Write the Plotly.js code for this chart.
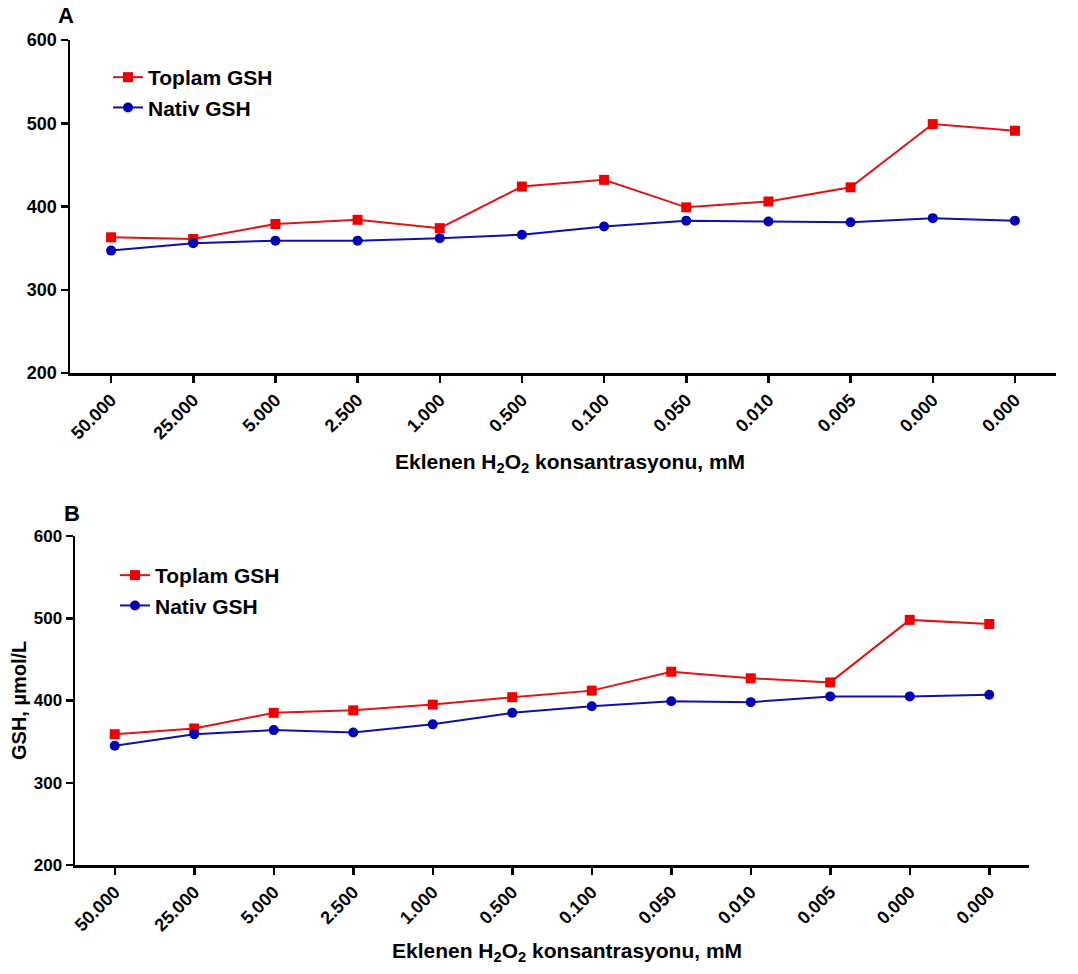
<!DOCTYPE html>
<html><head><meta charset="utf-8">
<script src="https://cdn.plot.ly/plotly-3.0.1.min.js"></script>
<style>body{margin:0;background:#fff}#chart{width:1078px;height:974px}</style>
</head><body><div id="chart"></div>
<script>
// Data
const concentrations = ["50.000","25.000","5.000","2.500","1.000","0.500","0.100","0.050","0.010","0.005","0.000","0.000"];
const toplamA = [363, 361, 379, 384, 374, 424, 432, 399, 406, 423, 499, 491];
const nativA  = [347, 356, 359, 359, 362, 366, 376, 383, 382, 381, 386, 383];
const toplamB = [359, 366, 385, 388, 395, 404, 412, 435, 427, 422, 498, 493];
const nativB  = [345, 359, 364, 361, 371, 385, 393, 399, 398, 405, 405, 407];
const seriesNames = ["Toplam GSH", "Nativ GSH"];
const yTicks = [200, 300, 400, 500, 600];

const idx = concentrations.map((_, i) => i);
const W = 1078, H = 974;
const fx = p => p / W;
const fy = p => 1 - p / H;
const FONT = "Liberation Sans, Arial, sans-serif";
const RED = "#f00000", REDL = "#e01414", BLUE = "#0000b4", BLUEL = "#1010a8";

function tr(y, name, xa, ya, lg, isRed) {
  return {
    x: idx, y: y, name: name, xaxis: xa, yaxis: ya, legend: lg,
    type: "scatter", mode: "lines+markers",
    line: {color: isRed ? REDL : BLUEL, width: 2},
    marker: {symbol: isRed ? "square" : "circle", size: 10, color: isRed ? RED : BLUE}
  };
}

const data = [
  tr(toplamA, seriesNames[0], "x", "y", "legend", true),
  tr(nativA, seriesNames[1], "x", "y", "legend", false),
  tr(toplamB, seriesNames[0], "x2", "y2", "legend2", true),
  tr(nativB, seriesNames[1], "x2", "y2", "legend2", false)
];

function xax(dom, anchor, size) {
  return {
    domain: dom, anchor: anchor, range: [-0.5, 11.5],
    tickmode: "array", tickvals: idx, ticktext: concentrations, tickangle: -45,
    ticks: "outside", ticklen: 7, tickwidth: 2.5, tickcolor: "#000",
    showline: true, linewidth: 2.5, linecolor: "#000",
    showgrid: false, zeroline: false,
    tickfont: {family: FONT, size: size, color: "#000", weight: "bold"}
  };
}
function yax(dom, anchor, size) {
  return {
    domain: dom, anchor: anchor, range: [200, 600],
    tickmode: "array", tickvals: yTicks, ticktext: yTicks.map(String),
    ticks: "outside", ticklen: 7, tickwidth: 2.5, tickcolor: "#000",
    showline: true, linewidth: 2.5, linecolor: "#000",
    showgrid: false, zeroline: false,
    tickfont: {family: FONT, size: size, color: "#000", weight: "bold"}
  };
}

const legFont = {family: FONT, size: 21, color: "#000", weight: "bold"};
const xTitle = "Eklenen H<sub>2</sub>O<sub>2</sub> konsantrasyonu, mM";
function ann(text, px, py, size, angle) {
  return {text: text, x: fx(px), y: fy(py), xref: "paper", yref: "paper", showarrow: false,
          xanchor: "center", yanchor: "middle", textangle: angle || 0,
          font: {family: FONT, size: size, color: "#000", weight: "bold"}};
}

const layout = {
  width: W, height: H,
  margin: {l: 0, r: 0, t: 0, b: 0},
  paper_bgcolor: "#fff", plot_bgcolor: "#fff",
  showlegend: true,
  xaxis: xax([fx(70), fx(1056)], "y", 18),
  yaxis: yax([fy(373), fy(40)], "x", 18),
  xaxis2: xax([fx(75), fx(1029)], "y2", 18),
  yaxis2: yax([fy(865), fy(536)], "x2", 17),
  legend: {x: fx(108), y: fy(57), xanchor: "left", yanchor: "top", font: legFont,
           bgcolor: "rgba(0,0,0,0)", tracegroupgap: 0},
  legend2: {x: fx(115), y: fy(555), xanchor: "left", yanchor: "top", font: legFont,
            bgcolor: "rgba(0,0,0,0)", tracegroupgap: 0},
  annotations: [
    ann("A", 66, 15, 22),
    ann("B", 72, 513, 22),
    ann(xTitle, 570, 463, 21),
    ann(xTitle, 567, 952, 21),
    ann("GSH, µmol/L", 19, 701, 20, -90)
  ]
};

Plotly.newPlot("chart", data, layout, {displayModeBar: false, staticPlot: true});
</script>
</body></html>
